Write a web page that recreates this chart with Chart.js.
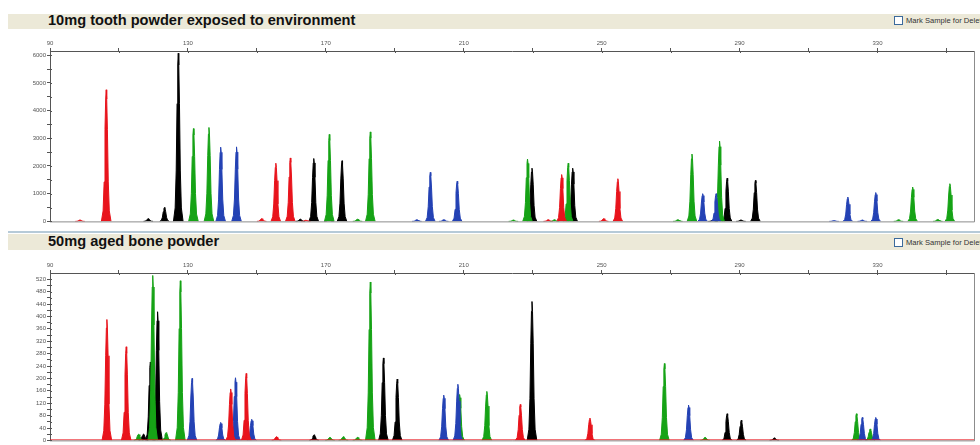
<!DOCTYPE html>
<html><head><meta charset="utf-8">
<script src="https://cdn.jsdelivr.net/npm/chart.js@4/dist/chart.umd.min.js"></script>
<style>
html,body{margin:0;padding:0}
body{width:980px;height:445px;overflow:hidden;background:#fff;position:relative;font-family:"Liberation Sans",Arial,sans-serif}
.band{position:absolute;left:8px;right:0;background:#ece9d8}
.sep{position:absolute;left:8px;right:0;height:2px;background:#b6cad8}
.title{position:absolute;left:48px;font-weight:bold;font-size:14.6px;line-height:15px;color:#111;white-space:nowrap}
.mark{position:absolute;left:894px;font-size:7.6px;line-height:9px;color:#333;white-space:nowrap}
.mark .box{display:inline-block;width:7px;height:7px;border:1px solid #3c6a9c;background:#fff;vertical-align:top;margin-right:3px}
canvas{position:absolute;left:0}
</style></head>
<body>
<div class="band" style="top:14px;height:15px"></div>
<div class="title" style="top:13px">10mg tooth powder exposed to environment</div>
<div class="mark" style="top:16px"><span class="box"></span>Mark Sample for Deletion</div>
<canvas id="c1" width="980" height="196" style="top:30px"></canvas>
<div class="sep" style="top:231px"></div>
<div class="band" style="top:234px;height:16px"></div>
<div class="title" style="top:234px">50mg aged bone powder</div>
<div class="mark" style="top:238px"><span class="box"></span>Mark Sample for Deletion</div>
<canvas id="c2" width="980" height="193" style="top:252px"></canvas>
<script>
// ---- data: [size (bp), height (RFU)] ----
const topRed   = [[98.7,50],[106.3,4750],[151.4,100],[155.5,2100],[159.7,2290],[164.2,40],[234.5,60],[238.4,1690],[250.6,100],[254.7,1540]];
const topBlack = [[118.5,100],[123.2,500],[127.2,6070],[162.6,80],[166.5,2270],[170.9,60],[174.7,2190],[229.8,1920],[241.6,1920],[282.3,50],[286.4,1560],[290.4,50],[294.6,1480]];
const topGreen = [[131.6,3350],[136.1,3390],[171.0,3140],[179.2,80],[182.9,3230],[224.4,50],[228.5,2250],[236.3,60],[240.3,2100],[272.1,60],[276.2,2430],[284.2,2900],[336.1,60],[340.2,1240],[347.5,70],[351.0,1360]];
const topBlue  = [[139.5,2680],[144.1,2690],[196.4,60],[200.3,1770],[204.2,60],[208.1,1450],[279.3,1000],[283.2,1000],[317.4,30],[321.4,880],[325.6,50],[329.5,1040]];

const lowRed   = [[106.5,390],[112.1,302],[142.4,166],[146.9,216],[155.7,12],[226.4,116],[246.6,72]];
const lowBlack = [[117.1,20],[119.1,253],[121.2,415],[166.6,18],[186.7,266],[190.7,198],[229.8,448],[286.4,86],[290.5,65],[300.1,8]];
const lowGreen = [[115.7,20],[119.8,532],[123.7,25],[127.8,515],[171.2,10],[175.1,12],[179.2,10],[182.9,511],[208.8,148],[216.7,158],[268.2,248],[280.0,10],[323.9,86],[327.9,37]];
const lowBlue  = [[131.2,200],[139.5,58],[143.8,202],[148.5,68],[204.2,146],[208.3,181],[275.2,114],[325.6,74],[329.5,74]];
const lowBaseline = [[90,1.5],[358,1.5]];

const xTicks = [90,110,130,150,170,190,210,230,250,270,290,310,330,350];
const xLabels = [90,130,170,210,250,290,330];
const topYTicks = [0,500,1000,1500,2000,2500,3000,3500,4000,4500,5000,5500,6000];
const topYLabels = [0,1000,2000,3000,4000,5000,6000];
const lowYTicks = [0,20,40,60,80,100,120,140,160,180,200,220,240,260,280,300,320,340,360,380,400,420,440,460,480,500,520];
const lowYLabels = [0,40,80,120,160,200,240,280,320,360,400,440,480,520];

// ---- styles ----
const COLORS = {red:'#e8141c', black:'#000000', green:'#16a316', blue:'#2442b4'};
const PROFILE = [[-1.4,0],[-0.9,0.08],[-0.6,0.3],[-0.35,0.7],[-0.15,0.93],[0,1],[0.15,0.93],[0.35,0.7],[0.6,0.3],[0.9,0.08],[1.4,0]];

function peakPoints(peaks){
  const pts=[];
  peaks.forEach(([x,h])=>{
    PROFILE.forEach(([dx,f])=>pts.push({x:x+dx,y:h*f}));
    pts.push({x:x+1.4,y:null});
  });
  return pts;
}
function peakSet(peaks,color){
  return {data:peakPoints(peaks),borderColor:color,backgroundColor:color,borderWidth:1,fill:'origin',pointRadius:0,tension:0,spanGaps:false};
}
const frame={id:'frame',afterDraw(c){const {ctx,chartArea:a}=c;ctx.save();ctx.strokeStyle='#8c8c8c';ctx.lineWidth=1;
  ctx.beginPath();ctx.moveTo(a.right+0.5,a.top);ctx.lineTo(a.right+0.5,a.bottom+0.5);ctx.lineTo(a.left,a.bottom+0.5);ctx.stroke();
  // tick marks crossing the top axis line
  const xs=c.scales.x; ctx.strokeStyle='#555';ctx.beginPath();
  xs.ticks.forEach(t=>{const px=Math.round(xs.getPixelForValue(t.value))+0.5;ctx.moveTo(px,a.top);ctx.lineTo(px,a.top+2);});
  const ys=c.scales.y;
  ys.ticks.forEach(t=>{const py=Math.round(ys.getPixelForValue(t.value))+0.5;ctx.moveTo(a.left,py);ctx.lineTo(a.left+2,py);});
  ctx.stroke();ctx.restore();}};

function makeChart(id,datasets,yMax,yTicks,yLabels,bottomPad){
  return new Chart(document.getElementById(id),{
    type:'line',
    data:{datasets},
    options:{
      responsive:false,animation:false,devicePixelRatio:1,
      layout:{padding:{left:0,right:6,top:0,bottom:bottomPad}},
      plugins:{legend:{display:false},tooltip:{enabled:false}},
      scales:{
        x:{type:'linear',position:'top',min:90,max:358,
          afterBuildTicks:s=>{s.ticks=xTicks.map(v=>({value:v}));},
          afterFit:s=>{s.height=21;},
          ticks:{autoSkip:false,maxRotation:0,padding:1,color:'#555',font:{size:6,family:'Liberation Sans'},
            callback:v=>xLabels.includes(v)?String(v):''},
          grid:{drawOnChartArea:false,tickLength:3,color:'#555'},
          border:{color:'#555'}},
        y:{type:'linear',min:0,max:yMax,
          afterBuildTicks:s=>{s.ticks=yTicks.map(v=>({value:v}));},
          afterFit:s=>{s.width=50;},
          ticks:{autoSkip:false,padding:1,color:'#555',font:{size:6,family:'Liberation Sans'},
            callback:v=>yLabels.includes(v)?String(v):''},
          grid:{drawOnChartArea:false,tickLength:3,color:'#555'},
          border:{color:'#555'}}
      }
    },
    plugins:[frame]
  });
}

makeChart('c1',[peakSet(topRed,COLORS.red),peakSet(topBlue,COLORS.blue),peakSet(topGreen,COLORS.green),peakSet(topBlack,COLORS.black)],6150,topYTicks,topYLabels,3);

const base={data:lowBaseline.map(([x,y])=>({x,y})),borderColor:COLORS.red,borderWidth:1,pointRadius:0,fill:false};
makeChart('c2',[base,peakSet(lowRed,COLORS.red),peakSet(lowBlue,COLORS.blue),peakSet(lowGreen,COLORS.green),peakSet(lowBlack,COLORS.black)],540,lowYTicks,lowYLabels,2);
</script>
</body></html>
